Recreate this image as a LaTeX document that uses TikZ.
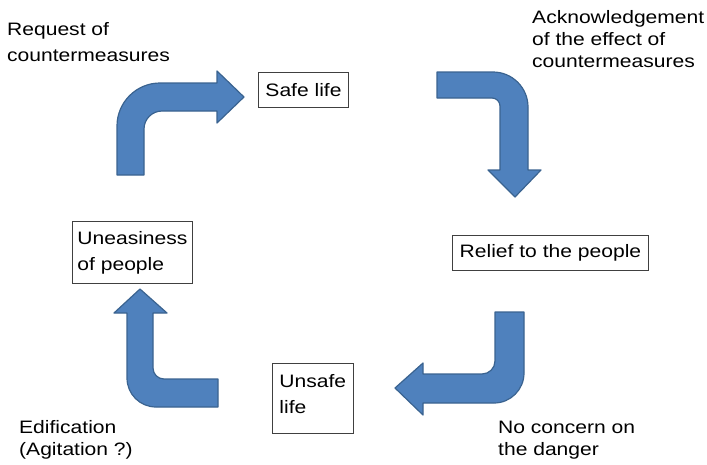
\documentclass[tikz,border=0pt]{standalone}
\usepackage{fontspec}
\setmainfont{Liberation Sans}[FakeStretch=1.17]
\definecolor{arrowfill}{HTML}{4F81BD}
\definecolor{arrowline}{HTML}{3A6390}
\tikzset{
  bentarrow/.style={fill=arrowfill, draw=arrowline, line width=1.2pt, line join=round},
  box/.style={draw=black!75, line width=0.9pt, align=left, inner ysep=0pt, anchor=north west,
              font=\fontsize{18}{26}\selectfont},
  lbl/.style={anchor=base west, align=left, inner sep=0pt, font=\fontsize{18}{22}\selectfont},
}
\begin{document}
\begin{tikzpicture}[x=1pt, y=-1pt]
\useasboundingbox (0,0) rectangle (707,464);

% boxes
\node[box, minimum width=89pt, minimum height=35pt, inner xsep=7pt] (safe) at (258,72) {Safe life};
\node[box, minimum width=196pt, minimum height=35pt, inner xsep=7pt] (relief) at (452,235) {Relief to the people};
\node[box, minimum width=120pt, minimum height=62pt, inner xsep=5pt] (uneasy) at (72,221) {Uneasiness\\of people};
\node[box, minimum width=80pt, minimum height=70pt, inner xsep=7pt] (unsafe) at (272,363) {Unsafe\\life\rule[-8pt]{0pt}{0pt}};

% labels (base anchor = baseline of last line)
\node[lbl, font=\fontsize{18}{26}\selectfont] (req) at (7,61) {Request of\\countermeasures};
\node[lbl] (ack) at (532,67) {Acknowledgement\\of the effect of\\countermeasures};
\node[lbl] (edi) at (19,455) {Edification\\(Agitation ?)};
\node[lbl] (noc) at (498,455) {No concern on\\the danger};

% arrow 1: up then right (to Safe life)
\draw[bentarrow] (117,175) -- (117,126) .. controls (117,102.3) and (136.3,83) .. (160,83)
  -- (217,83) -- (217,71) -- (244,97) -- (217,123) -- (217,111) -- (162,111)
  .. controls (152.1,111) and (144,119.1) .. (144,129) -- (144,175) -- cycle;

% arrow 2: right then down (to Relief)
\draw[bentarrow] (437,72) -- (493,72) .. controls (512.3,72) and (528,87.7) .. (528,107)
  -- (528,170) -- (541,170) -- (515,197) -- (488,170) -- (500,170) -- (500,106)
  .. controls (500,101.6) and (496.4,98) .. (492,98) -- (437,98) -- cycle;

% arrow 3: down then left (to Unsafe life)
\draw[bentarrow] (495,312) -- (524,312) -- (524,373) .. controls (524,389.6) and (510.6,403) .. (494,403)
  -- (423,403) -- (423,415) -- (395,388) -- (423,363) -- (423,374) -- (482,374)
  .. controls (489.2,374) and (495,368.2) .. (495,361) -- cycle;

% arrow 4: left then up (to Uneasiness)
\draw[bentarrow] (218,379) -- (218,407) -- (156,407) .. controls (139.9,407) and (127,394.1) .. (127,378)
  -- (127,313) -- (114,313) -- (140,289) -- (167,313) -- (153,313) -- (153,368)
  .. controls (153,374.1) and (157.9,379) .. (164,379) -- cycle;
\end{tikzpicture}
\end{document}
